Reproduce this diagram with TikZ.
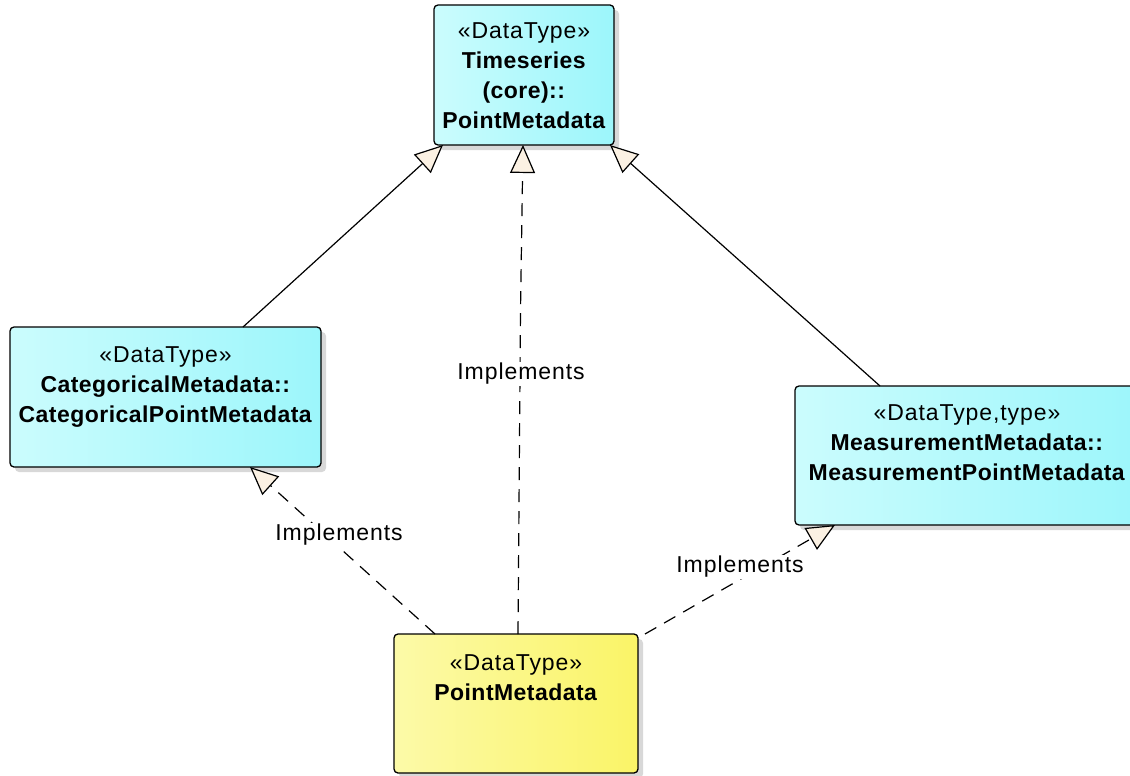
\documentclass[tikz,border=0pt]{standalone}
\usepackage{fontspec}
\setmainfont{Liberation Sans}[LetterSpace=4,BoldFeatures={LetterSpace=2}]
\usetikzlibrary{arrows.meta,shadows,calc}
\definecolor{cyanR}{HTML}{9CF6FB}
\definecolor{cyanL}{HTML}{CBFCFD}
\definecolor{yelR}{HTML}{FAF467}
\definecolor{yelL}{HTML}{FCFAA8}
\definecolor{tipfill}{HTML}{FBF1E3}
\definecolor{shadowgrey}{HTML}{D8D8D8}
\tikzset{
  umlbox/.style={draw=black, line width=1.3pt, rounded corners=4pt, inner sep=0pt,
    drop shadow={shadow xshift=5pt, shadow yshift=-5pt, fill=shadowgrey, opacity=1}},
  cyanbox/.style={umlbox, left color=cyanL, right color=cyanR},
  yellowbox/.style={umlbox, left color=yelL, right color=yelR},
  boxtext/.style={align=center, inner sep=0pt, anchor=north,
    font=\fontsize{23}{30}\selectfont},
  gen/.style={line width=1.2pt, -{Triangle[length=28pt,width=25pt,fill=tipfill,line width=1.2pt]}},
  real/.style={gen, dash pattern=on 13pt off 9pt},
  lbl/.style={fill=white, inner sep=1pt, font=\fontsize{23}{26}\selectfont}
}
\begin{document}
\begin{tikzpicture}[x=1pt,y=-1pt]
\useasboundingbox (0,0) rectangle (1130,776);
% boxes
\node[cyanbox, minimum width=180pt, minimum height=140pt] (T) at (524,75) {};
\node[boxtext] (Tt) at (524,22) {«DataType»\\\textbf{Timeseries}\\\textbf{(core)::}\\\textbf{PointMetadata}};
\node[cyanbox, minimum width=311pt, minimum height=140pt] (C) at (165.5,397) {};
\node[boxtext] (Ct) at (165.5,346) {«DataType»\\\textbf{CategoricalMetadata::}\\\textbf{CategoricalPointMetadata}};
\node[cyanbox, minimum width=350pt, minimum height=139pt] (M) at (970,455.5) {};
\node[boxtext] (Mt) at (967,404) {«DataType,type»\\\textbf{MeasurementMetadata::}\\\textbf{MeasurementPointMetadata}};
\node[yellowbox, minimum width=244pt, minimum height=139pt] (P) at (516,703.5) {};
\node[boxtext] (Pt) at (516,654) {«DataType»\\\textbf{PointMetadata}};
% connector end points
\coordinate (c1) at (243,327);
\coordinate (t1) at (443,145);
\coordinate (m1) at (880,386);
\coordinate (t3) at (610,145);
\coordinate (p2) at (518,634);
\coordinate (j2) at (520.5,310);
\coordinate (t2) at (523,145);
\coordinate (p1) at (435,634);
\coordinate (c2) at (250,467);
\coordinate (p3) at (645,634);
\coordinate (m2) at (835,525);
% generalizations
\draw[gen] (c1) -- (t1);
\draw[gen] (m1) -- (t3);
% realizations
\draw[real] (p2) -- (j2) -- (t2);
\draw[real] (p1) -- (c2);
\draw[real] (p3) -- (m2);
% labels
\node[lbl] (L2) at (521,374) {Implements};
\node[lbl] (L1) at (339,535) {Implements};
\node[lbl] (L3) at (740,567) {Implements};
\end{tikzpicture}
\end{document}
